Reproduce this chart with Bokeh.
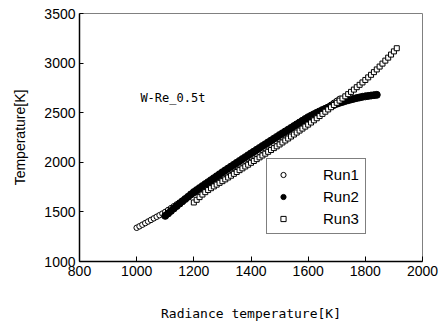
from bokeh.plotting import figure
from bokeh.models import Range1d, Label, Legend, LegendItem, FixedTicker
from bokeh.embed import file_html
from bokeh.resources import INLINE

# ---------------- data ----------------
run1_x = [1000, 1010, 1020, 1030, 1040, 1050, 1060, 1070, 1080, 1090,
          1100, 1110, 1120, 1130, 1140, 1150, 1160, 1170, 1180, 1190,
          1200, 1210, 1220, 1230, 1240, 1250, 1260, 1270, 1280, 1290,
          1300, 1310, 1320, 1330, 1340, 1350, 1360, 1370, 1380, 1390,
          1400, 1410, 1420, 1430, 1440, 1450, 1460, 1470, 1480, 1490,
          1500, 1510, 1520, 1530, 1540, 1550, 1560, 1570, 1580, 1590,
          1600, 1610, 1620, 1630, 1640, 1650, 1660, 1670, 1680, 1690,
          1700, 1710]
run1_y = [1340, 1355, 1371, 1387, 1403, 1419, 1435, 1451, 1467, 1483,
          1500, 1519, 1538, 1557, 1576, 1595, 1614, 1633, 1652, 1671,
          1690, 1708, 1726, 1744, 1762, 1780, 1798, 1816, 1834, 1852,
          1870, 1888, 1906, 1924, 1942, 1960, 1978, 1996, 2014, 2032,
          2050, 2068, 2086, 2104, 2122, 2140, 2158, 2176, 2194, 2212,
          2230, 2249, 2268, 2287, 2306, 2325, 2344, 2363, 2382, 2401,
          2420, 2440, 2460, 2480, 2500, 2520, 2540, 2560, 2580, 2600,
          2620, 2640]

run2_x = [1100, 1110, 1120, 1130, 1140, 1150, 1160, 1170, 1180, 1190,
          1200, 1210, 1220, 1230, 1240, 1250, 1260, 1270, 1280, 1290,
          1300, 1310, 1320, 1330, 1340, 1350, 1360, 1370, 1380, 1390,
          1400, 1410, 1420, 1430, 1440, 1450, 1460, 1470, 1480, 1490,
          1500, 1510, 1520, 1530, 1540, 1550, 1560, 1570, 1580, 1590,
          1600, 1610, 1620, 1630, 1640, 1650, 1660, 1670, 1680, 1690,
          1700, 1710, 1720, 1730, 1740, 1750, 1760, 1770, 1780, 1790,
          1800, 1810, 1820, 1830, 1840]
run2_y = [1460, 1485, 1510, 1535, 1559, 1583, 1607, 1630, 1653, 1677,
          1700, 1720, 1740, 1760, 1780, 1800, 1820, 1840, 1860, 1880,
          1900, 1919, 1938, 1957, 1976, 1995, 2014, 2033, 2052, 2071,
          2090, 2108, 2127, 2145, 2164, 2182, 2201, 2219, 2238, 2256,
          2275, 2293, 2311, 2329, 2347, 2365, 2383, 2401, 2419, 2437,
          2455, 2470, 2485, 2499, 2513, 2527, 2540, 2553, 2566, 2578,
          2590, 2600, 2609, 2618, 2626, 2634, 2641, 2648, 2654, 2660,
          2665, 2669, 2673, 2677, 2680]

run3_x = [1200, 1210, 1220, 1230, 1240, 1250, 1260, 1270, 1280, 1290,
          1300, 1310, 1320, 1330, 1340, 1350, 1360, 1370, 1380, 1390,
          1400, 1410, 1420, 1430, 1440, 1450, 1460, 1470, 1480, 1490,
          1500, 1510, 1520, 1530, 1540, 1550, 1560, 1570, 1580, 1590,
          1600, 1610, 1620, 1630, 1640, 1650, 1660, 1670, 1680, 1690,
          1700, 1710, 1720, 1730, 1740, 1750, 1760, 1770, 1780, 1790,
          1800, 1810, 1820, 1830, 1840, 1850, 1860, 1870, 1880, 1890,
          1900, 1910]
run3_y = [1595, 1622, 1649, 1675, 1699, 1720, 1739, 1757, 1775, 1793,
          1810, 1828, 1847, 1865, 1884, 1902, 1921, 1939, 1958, 1976,
          1995, 2013, 2032, 2050, 2069, 2087, 2106, 2124, 2143, 2161,
          2180, 2200, 2220, 2240, 2260, 2280, 2300, 2320, 2340, 2360,
          2380, 2401, 2423, 2444, 2466, 2488, 2510, 2533, 2555, 2578,
          2600, 2622, 2643, 2665, 2687, 2710, 2733, 2757, 2781, 2805,
          2830, 2856, 2882, 2909, 2936, 2965, 2995, 3025, 3055, 3086,
          3118, 3150]

series_names = ["Run1", "Run2", "Run3"]
x_ticks = [800, 1000, 1200, 1400, 1600, 1800, 2000]
y_ticks = [1000, 1500, 2000, 2500, 3000, 3500]
x_title = "Radiance temperature[K]"
y_title = "Temperature[K]"
annotation = "W-Re_0.5t"

# ---------------- figure ----------------
TICK_FONT = "Liberation Sans"
MONO_FONT = "DejaVu Sans Mono"

p = figure(width=444, height=329, output_backend="svg", toolbar_location=None,
           x_range=Range1d(800, 2000), y_range=Range1d(1000, 3500),
           min_border_left=79, min_border_right=22, min_border_top=13,
           min_border_bottom=68)
p.background_fill_color = "white"
p.border_fill_color = "white"
p.outline_line_color = "#808080"
p.outline_line_width = 1
p.xgrid.visible = False
p.ygrid.visible = False

for ax in (p.xaxis[0], p.yaxis[0]):
    ax.axis_line_color = "black"
    ax.axis_line_width = 1.5
    ax.major_tick_line_color = "black"
    ax.major_tick_out = 0
    ax.minor_tick_line_color = None
    ax.major_label_text_font = TICK_FONT
    ax.major_label_text_font_size = "14px"
    ax.major_label_text_color = "black"
    ax.axis_label_text_font_style = "normal"
    ax.axis_label_text_color = "black"

p.xaxis[0].ticker = FixedTicker(ticks=x_ticks)
p.yaxis[0].ticker = FixedTicker(ticks=y_ticks)
p.xaxis[0].major_tick_in = 5
p.yaxis[0].major_tick_in = 4
p.xaxis[0].major_label_standoff = 4
p.yaxis[0].major_label_standoff = 4

p.xaxis[0].axis_label = x_title
p.xaxis[0].axis_label_text_font = MONO_FONT
p.xaxis[0].axis_label_text_font_size = "13px"
p.xaxis[0].axis_label_standoff = 27

p.yaxis[0].axis_label = y_title
p.yaxis[0].axis_label_text_font = TICK_FONT
p.yaxis[0].axis_label_text_font_size = "14px"
p.yaxis[0].axis_label_standoff = 13

r1 = p.scatter(run1_x, run1_y, marker="circle", size=5.5, line_color="black",
               fill_color="white", line_width=1)
r2 = p.scatter(run2_x, run2_y, marker="circle", size=7, line_color="black",
               fill_color="black", line_width=1)
r3 = p.scatter(run3_x, run3_y, marker="square", size=5, line_color="black",
               fill_color="white", line_width=1)

p.add_layout(Label(x=1013, y=2653, text=annotation, text_font=MONO_FONT,
                   text_font_size="12px", text_baseline="middle",
                   text_color="black"))

legend = Legend(items=[LegendItem(label=series_names[0], renderers=[r1]),
                       LegendItem(label=series_names[1], renderers=[r2]),
                       LegendItem(label=series_names[2], renderers=[r3])],
                location=(187, 27), margin=0, padding=5, spacing=2,
                glyph_width=22, glyph_height=13, label_height=20,
                label_width=37, label_standoff=29,
                border_line_color="black", border_line_width=1,
                background_fill_color="white", background_fill_alpha=1,
                label_text_font=TICK_FONT, label_text_font_size="15px",
                label_text_color="black")
p.add_layout(legend, "center")

open("out.html", "w").write(file_html(p, INLINE))
